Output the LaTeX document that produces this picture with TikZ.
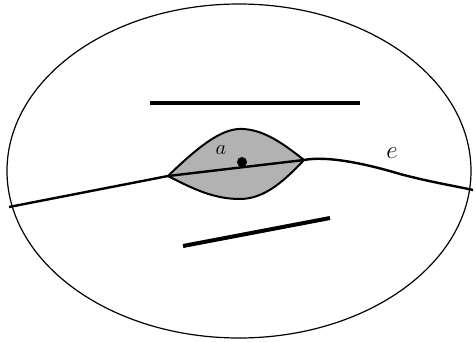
\documentclass[tikz,border=0pt]{standalone}
\usepackage{amsmath,amssymb}
\usepackage{tikz}
\usepackage{xcolor}

\begin{document}
\begin{tikzpicture}[x=1pt,y=-1pt]
\useasboundingbox (0,0) rectangle (476,342);
\draw[line width=1.2pt] (239,171) ellipse (232 and 167);
\fill[gray!60] (168,176) .. controls (205,140) and (225,128) .. (243,129) .. controls (265,130) and (285,145) .. (304,160) .. controls (285,180) and (265,199) .. (240,199) .. controls (215,199) and (195,190) .. (168,176) -- cycle;
\draw[line width=2pt] (168,176) .. controls (205,140) and (225,128) .. (243,129) .. controls (265,130) and (285,145) .. (304,160) .. controls (285,180) and (265,199) .. (240,199) .. controls (215,199) and (195,190) .. (168,176) -- cycle;
\draw[line width=2.4pt] (9,207) -- (168,176) -- (304,160) .. controls (325,156) and (360,162) .. (400,174) .. controls (430,182) and (455,186) .. (473,190);
\draw[line width=4pt] (150,103)--(360,103);
\draw[line width=4pt] (183,246)--(330,218);
\fill (242,162) circle (5pt);
\node[font=\fontsize{20}{22}\selectfont] (lbla) at (221,150) {$a$};
\node[font=\fontsize{24}{28}\selectfont] (lble) at (392,153) {$e$};
\end{tikzpicture}
\end{document}
